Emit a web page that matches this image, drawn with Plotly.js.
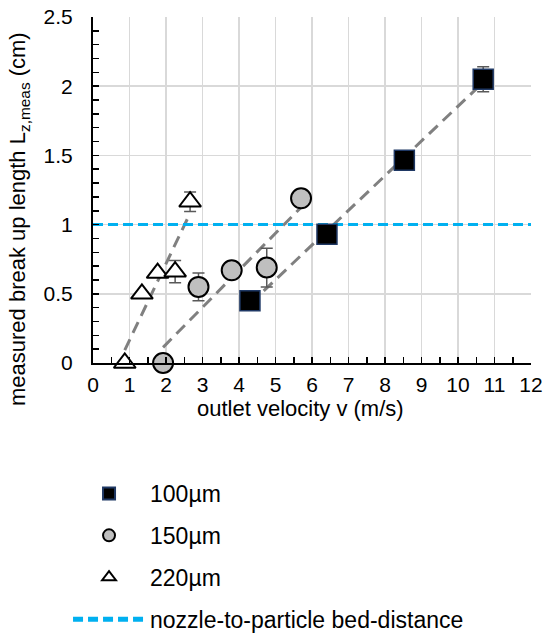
<!DOCTYPE html>
<html><head><meta charset="utf-8">
<script src="https://cdn.plot.ly/plotly-3.0.1.min.js"></script>
<style>html,body{margin:0;padding:0;background:#fff}#chart{width:547px;height:634px}</style>
</head><body><div id="chart"></div>
<script>
// 100 µm
const vel100 = [4.30, 6.41, 8.53, 10.69];
const len100 = [0.45, 0.93, 1.465, 2.05];
const err100 = [0.0, 0.0, 0.0, 0.09];
// 150 µm
const vel150 = [1.92, 2.89, 3.80, 4.76, 5.70];
const len150 = [0.0, 0.55, 0.67, 0.69, 1.19];
const err150 = [0.0, 0.10, 0.0, 0.14, 0.0];
// 220 µm
const vel220 = [0.87, 1.34, 1.77, 2.25, 2.66];
const len220 = [0.0, 0.50, 0.65, 0.66, 1.165];
const err220 = [0.0, 0.0, 0.0, 0.08, 0.07];
// nozzle-to-particle bed distance
const bedX = [0, 12];
const bedY = [1, 1];
const seriesNames = ['100µm', '150µm', '220µm', 'nozzle-to-particle bed-distance'];
const xTitle = 'outlet velocity v (m/s)';
const yTitle = 'measured break up length L<sub>z,meas</sub> (cm)';

function fit(xs, ys) {
  const n = xs.length;
  const mx = xs.reduce((a, b) => a + b, 0) / n;
  const my = ys.reduce((a, b) => a + b, 0) / n;
  let sxy = 0, sxx = 0;
  for (let i = 0; i < n; i++) { sxy += (xs[i] - mx) * (ys[i] - my); sxx += (xs[i] - mx) ** 2; }
  const m = sxy / sxx, b = my - m * mx;
  const x0 = Math.min(...xs), x1 = Math.max(...xs);
  return {x: [x0, x1], y: [m * x0 + b, m * x1 + b]};
}

const FONT = 'Arial, "Liberation Sans", sans-serif';
const trendStyle = {color: '#808080', width: 3, dash: '12px,7px'};
const errStyle = (arr) => ({type: 'data', array: arr, visible: true, color: '#595959', thickness: 1.5, width: 6});

const traces = [];
[[vel100, len100], [vel150, len150], [vel220, len220]].forEach(([x, y]) => {
  const f = fit(x, y);
  traces.push({x: f.x, y: f.y, mode: 'lines', line: trendStyle, showlegend: false, hoverinfo: 'skip', cliponaxis: false});
});
traces.push({x: bedX, y: bedY, mode: 'lines', name: seriesNames[3], legendgroup: 'd', legendrank: 4,
  line: {color: '#00b0f0', width: 3, dash: '10px,5px'}});
traces.push({x: vel100, y: len100, mode: 'markers', name: seriesNames[0], legendgroup: 'a', legendrank: 1, cliponaxis: false,
  error_y: errStyle(err100),
  marker: {symbol: 'square', size: 20, color: '#000000', line: {color: '#1f3864', width: 1.5}}});
traces.push({x: vel150, y: len150, mode: 'markers', name: seriesNames[1], legendgroup: 'b', legendrank: 2, cliponaxis: false,
  error_y: errStyle(err150),
  marker: {symbol: 'circle', size: 20, color: '#bfbfbf', line: {color: '#000000', width: 2}}});
traces.push({x: vel220, y: len220, mode: 'markers', name: seriesNames[2], legendgroup: 'c', legendrank: 3, cliponaxis: false,
  error_y: errStyle(err220),
  marker: {symbol: 'triangle-up', size: 19, color: '#ffffff', line: {color: '#000000', width: 2}}});

const layout = {
  width: 547, height: 634,
  margin: {l: 93, r: 16, t: 17, b: 271, autoexpand: false},
  paper_bgcolor: '#fff', plot_bgcolor: '#fff',
  font: {family: FONT, color: '#000', size: 21},
  showlegend: true,
  legend: {x: -0.057, xanchor: 'left', y: -0.315, yanchor: 'top',
    tracegroupgap: 9, itemwidth: 72, itemsizing: 'constant',
    font: {size: 23, family: FONT}, bgcolor: 'rgba(0,0,0,0)'},
  xaxis: {range: [0, 12], dtick: 1, tick0: 0, showgrid: true, gridcolor: '#d9d9d9', gridwidth: 1.5,
    zeroline: false, showline: true, linecolor: '#000', linewidth: 2,
    ticks: 'inside', ticklen: 6, tickwidth: 1.5, tickcolor: '#000',
    minor: {dtick: 0.5, ticks: 'inside', ticklen: 6, tickwidth: 1.5, tickcolor: '#000', showgrid: false},
    tickfont: {size: 21}, ticklabelstandoff: 2},
  yaxis: {range: [0, 2.5], dtick: 0.5, tick0: 0, showgrid: true, gridcolor: '#d9d9d9', gridwidth: 1.5,
    zeroline: false, showline: true, linecolor: '#000', linewidth: 2,
    ticks: 'inside', ticklen: 6, tickwidth: 1.5, tickcolor: '#000',
    minor: {dtick: 0.1, ticks: 'inside', ticklen: 6, tickwidth: 1.5, tickcolor: '#000', showgrid: false},
    tickfont: {size: 21}, ticklabelstandoff: 14},
  annotations: [
    {text: xTitle, xref: 'paper', yref: 'paper', x: (300 - 93) / 438, y: (363 - 408) / 346,
     xanchor: 'center', yanchor: 'middle', showarrow: false, font: {size: 22}},
    {text: yTitle, xref: 'paper', yref: 'paper', x: (19 - 93) / 438, y: (363 - 219) / 346,
     xanchor: 'center', yanchor: 'middle', textangle: -90, showarrow: false, font: {size: 22}}
  ]
};

Plotly.newPlot('chart', traces, layout, {displayModeBar: false, staticPlot: true});
</script>
</body></html>
